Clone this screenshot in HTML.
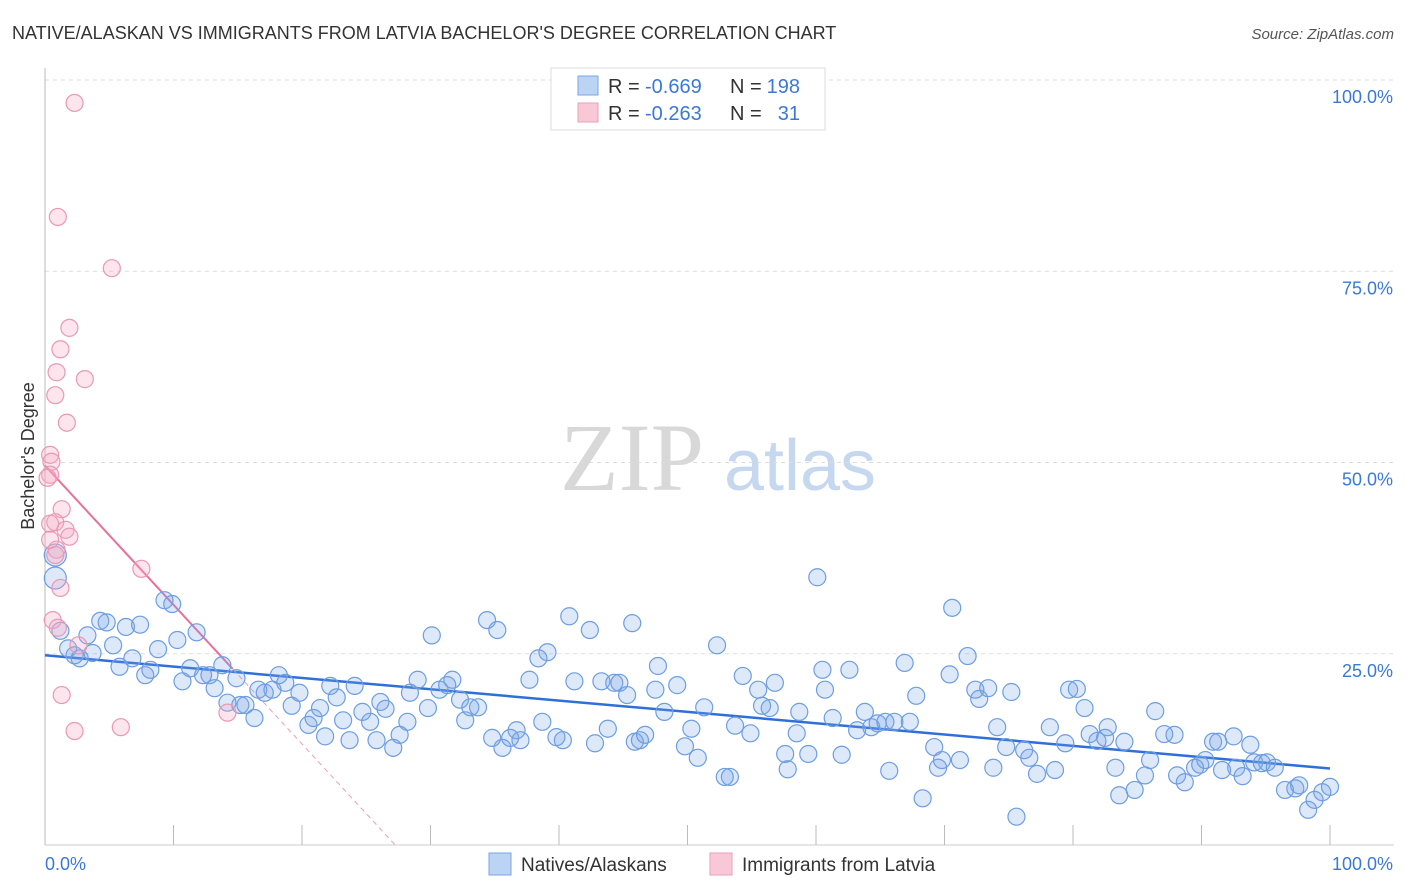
<!DOCTYPE html>
<html><head><meta charset="utf-8"><style>
body{margin:0;background:#fff;font-family:"Liberation Sans",sans-serif}
svg{display:block}
</style></head><body>
<svg id="chart" width="1406" height="892" xmlns="http://www.w3.org/2000/svg">
<text x="12" y="39" font-size="18" fill="#333">NATIVE/ALASKAN VS IMMIGRANTS FROM LATVIA BACHELOR'S DEGREE CORRELATION CHART</text>
<text x="1394" y="39" font-size="15" fill="#555" font-style="italic" text-anchor="end">Source: ZipAtlas.com</text>
<g>
<text x="632" y="490" font-family="Liberation Serif,serif" font-size="96" fill="#d8d8d8" text-anchor="middle">ZIP</text>
<text x="800" y="490" font-size="72" fill="#c5d8f0" text-anchor="middle">atlas</text>
</g>
<g id="grid"></g><g id="axes"></g><g id="trend"></g><g id="pts"></g>
<text transform="translate(34,456) rotate(-90)" font-size="18" fill="#333" text-anchor="middle">Bachelor's Degree</text>
<text x="45" y="870" font-size="18" fill="#3b78d8">0.0%</text>
<text x="1393" y="870" font-size="18" fill="#3b78d8" text-anchor="end">100.0%</text>
<g>
<rect x="551" y="68" width="274" height="62" fill="#fff" stroke="#ddd"/>
<rect x="578" y="76" width="20" height="19" fill="#bcd4f4" stroke="#7aa6e6"/>
<rect x="578" y="103" width="20" height="19" fill="#f9c8d6" stroke="#eaa0b8"/>
<text x="608" y="93" font-size="20" fill="#333">R =</text>
<text x="645" y="93" font-size="20" fill="#3b78d8">-0.669</text>
<text x="730" y="93" font-size="20" fill="#333">N =</text>
<text x="800" y="93" font-size="20" fill="#3b78d8" text-anchor="end">198</text>
<text x="608" y="120" font-size="20" fill="#333">R =</text>
<text x="645" y="120" font-size="20" fill="#3b78d8">-0.263</text>
<text x="730" y="120" font-size="20" fill="#333">N =</text>
<text x="800" y="120" font-size="20" fill="#3b78d8" text-anchor="end">31</text>
</g>
<g>
<rect x="489" y="853" width="22" height="22" fill="#bcd4f4" stroke="#7aa6e6"/>
<text x="521" y="871" font-size="19" fill="#333">Natives/Alaskans</text>
<rect x="710" y="853" width="22" height="22" fill="#f9c8d6" stroke="#eaa0b8"/>
<text x="742" y="871" font-size="19" fill="#333">Immigrants from Latvia</text>
</g>
</svg>
<script>
const yTicks=[25,50,75,100];
const yTickLabels=["25.0%","50.0%","75.0%","100.0%"];
const xTicks=[0,10,20,30,40,50,60,70,80,90,100];
const blueX=[0.8,0.8,1.2,1.8,2.3,2.7,3.3,3.7,4.3,4.8,5.3,5.8,6.3,6.8,7.4,7.8,8.2,8.8,9.3,9.9,10.3,10.7,11.3,11.8,12.3,12.8,13.2,13.8,14.2,14.9,15.2,15.6,16.3,16.6,17.1,17.7,18.2,18.7,19.2,19.8,20.5,20.9,21.4,21.8,22.2,22.7,23.2,23.7,24.1,24.7,25.3,25.8,26.1,26.5,27.1,27.6,28.2,28.4,29.0,29.8,30.1,30.7,31.3,31.7,32.3,32.7,33.1,33.7,34.4,34.8,35.2,35.6,36.2,36.7,37.0,37.7,38.4,38.7,39.1,39.8,40.3,40.8,41.2,42.4,42.8,43.3,43.8,44.3,44.7,45.3,45.7,45.9,46.3,46.7,47.5,47.7,48.2,49.2,49.8,50.3,50.8,51.3,52.3,52.9,53.3,53.7,54.3,54.9,55.5,55.8,56.4,56.8,57.6,57.8,58.5,58.7,59.4,60.1,60.5,60.7,61.3,62.0,62.6,63.2,63.8,64.3,64.8,65.4,65.7,66.1,66.9,67.3,67.8,68.3,69.2,69.5,69.8,70.4,70.6,71.2,71.8,72.4,72.7,73.4,73.8,74.1,74.8,75.2,75.6,76.2,76.6,77.2,78.2,78.6,79.4,79.7,80.3,80.9,81.3,81.9,82.5,82.7,83.3,83.6,84.0,84.8,85.6,86.0,86.4,87.1,87.9,88.1,88.7,89.5,89.9,90.3,90.9,91.3,91.6,92.5,92.7,93.2,93.8,94.1,94.7,95.1,95.7,96.5,97.3,97.6,98.3,98.8,99.4,100];
const blueY=[34.9,37.9,28.0,25.7,24.8,24.4,27.4,25.1,29.3,29.1,26.1,23.3,28.5,24.4,28.8,22.2,22.9,25.6,32.0,31.5,26.8,21.4,23.1,27.8,22.2,22.2,20.5,23.5,18.6,21.8,18.3,18.3,16.6,20.3,19.9,20.3,22.2,21.2,18.2,19.9,15.7,16.6,17.9,14.2,20.8,19.3,16.3,13.7,20.8,17.4,16.1,13.7,18.7,17.8,12.7,14.4,16.1,19.9,21.6,17.9,27.4,20.3,20.9,21.6,19.0,16.3,18.0,18.0,29.4,14.0,28.1,12.7,14.0,15.0,13.7,21.6,24.4,16.1,25.2,14.1,13.7,29.9,21.4,28.1,13.3,21.4,15.2,21.2,21.2,19.6,29.0,13.5,13.7,14.4,20.3,23.4,17.4,20.9,12.9,15.2,11.4,18.0,26.1,8.9,8.9,15.6,22.1,14.6,20.3,18.2,17.9,21.2,11.9,9.9,14.6,17.4,11.9,35.0,22.9,20.3,16.6,11.8,22.9,15.0,17.4,15.4,15.9,16.1,9.7,16.1,23.8,16.1,19.5,6.1,12.8,10.1,11.1,22.3,31.0,11.1,24.7,20.3,19.1,20.5,10.1,15.4,12.8,20.0,3.7,12.4,11.4,9.3,15.4,9.8,13.3,20.3,20.4,17.9,14.5,13.6,14.0,15.4,10.1,6.5,13.5,7.2,9.1,11.1,17.5,14.5,14.4,9.1,8.2,10.1,10.5,11.1,13.5,13.5,9.8,14.2,10.1,9.0,13.1,10.8,10.7,10.8,10.1,7.2,7.4,7.8,4.6,5.9,6.9,7.6];
const pinkX=[2.3,1.0,5.2,1.9,1.2,3.1,0.9,0.8,1.7,0.4,0.5,0.4,0.2,1.3,0.8,0.4,1.6,1.9,0.9,0.8,7.5,1.2,0.6,1.0,2.6,1.3,2.3,5.9,14.2,0.4];
const pinkY=[97.0,82.1,75.4,67.6,64.8,60.9,61.8,58.8,55.2,51.0,50.1,48.4,48.0,43.9,42.2,42.0,41.2,40.3,38.6,37.9,36.1,33.6,29.4,28.4,26.1,19.6,14.9,15.4,17.3,39.9];
const blueTrend=[24.8,-0.148];
const pinkTrend=[49.6,-1.82];
const NS='http://www.w3.org/2000/svg';
const X=v=>45+v*12.85, Y=v=>845-v*7.65;
function mk(tag,attrs,parent){const e=document.createElementNS(NS,tag);for(const k in attrs)e.setAttribute(k,attrs[k]);document.getElementById(parent).appendChild(e);return e;}
yTicks.forEach((t,i)=>{
 const g=mk('line',{x1:45,x2:1394,y1:Y(t),y2:Y(t),stroke:'#ddd','stroke-dasharray':'4,4'},'grid');
 
 
 const l=mk('text',{x:1393,y:Y(t)+23,'font-size':18,fill:'#3b78d8','text-anchor':'end'},'grid');
 l.textContent=yTickLabels[i];
 
 
});
let a=mk('line',{x1:45,x2:45,y1:68,y2:845,stroke:'#bbb'},'axes');


a=mk('line',{x1:45,x2:1394,y1:845,y2:845,stroke:'#ccc'},'axes');


xTicks.forEach(t=>{const e=mk('line',{x1:X(t),x2:X(t),y1:825,y2:845,stroke:'#bbb'},'axes');
 
 });
function pt(x,y,r,fill,stroke,name){const c=mk('circle',{cx:X(x),cy:Y(y),r:r,fill:fill,stroke:stroke,'stroke-width':1.2},'pts');
 
 }
blueX.forEach((x,i)=>pt(x,blueY[i],i<2?11:8.5,'rgba(120,165,230,0.25)','#6d9ee2','native-point'));
pinkX.forEach((x,i)=>pt(x,pinkY[i],8.5,'rgba(245,170,195,0.3)','#eb98b3','latvia-point'));
let t=mk('line',{x1:X(0),y1:Y(blueTrend[0]),x2:X(100),y2:Y(blueTrend[0]+100*blueTrend[1]),stroke:'#2f6fd8','stroke-width':2.5},'trend');


const xe=-pinkTrend[0]/pinkTrend[1];
t=mk('line',{x1:X(0),y1:Y(pinkTrend[0]),x2:X(14.6),y2:Y(pinkTrend[0]+14.6*pinkTrend[1]),stroke:'#e8719a','stroke-width':2},'trend');


t=mk('line',{x1:X(14.6),y1:Y(pinkTrend[0]+14.6*pinkTrend[1]),x2:X(xe),y2:Y(0),stroke:'#eaa0b8','stroke-width':1,'stroke-dasharray':'5,4'},'trend');


</script>
</body></html>
